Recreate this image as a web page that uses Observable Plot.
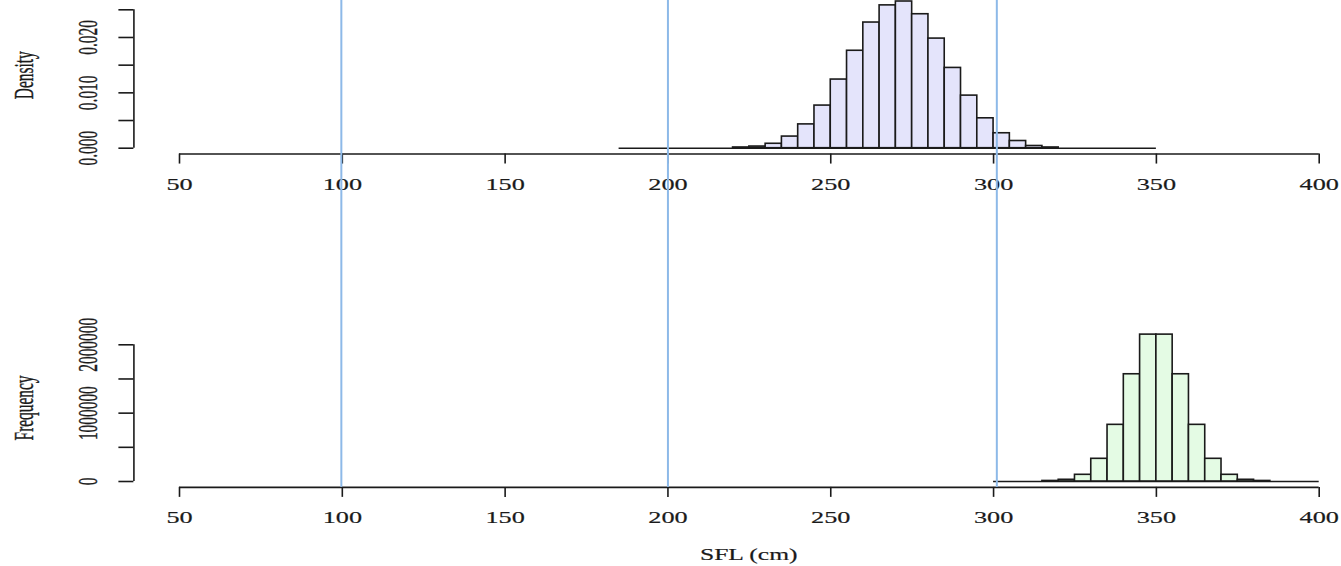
<!DOCTYPE html>
<html><head><meta charset="utf-8">
<script src="https://cdn.jsdelivr.net/npm/d3@7"></script>
<script src="https://cdn.jsdelivr.net/npm/@observablehq/plot@0.6"></script>
<style>html,body{margin:0;padding:0;background:#fff;} #chart svg{display:block;} #chart svg text{stroke:#1a1a1a;stroke-width:0.2px;} #chart svg text.vert{stroke-width:0.4px;}</style>
</head><body><div id="chart"></div>
<script>
// ---- data ----
const binWidth = 5;
const topBinStart = 185;
const topDensity = [0,0,0,0,0,0,0,
  0.00013,0.0003,0.0008,0.0021,0.0043,0.0077,0.0124,0.0176,0.0227,0.0258,
  0.0265,0.0242,0.0198,0.0145,0.0095,0.0054,0.0027,0.0013,0.0004,0.00013,
  0,0,0,0,0,0];
const bottomBinStart = 300;
const bottomFrequency = [0,0,0,8000,25000,98000,332000,829000,1569000,2149000,
  2149000,1569000,829000,332000,98000,25000,8000,0,0,0];
const xLimits = [50, 400];
const xTicks = [50,100,150,200,250,300,350,400];
const topYTicks = [0,0.005,0.01,0.015,0.02,0.025];
const topYLabels = [0,0.01,0.02];
const bottomYTicks = [0,500000,1000000,1500000,2000000];
const bottomYLabels = [0,1000000,2000000];
const refLines = [99.7,200,301];
const topLabel = "Density";
const bottomLabel = "Frequency";
const xLabel = "SFL (cm)";

// ---- helpers ----
const toBins = (start, vals) => vals.map((v, i) => ({x1: start + i*binWidth, x2: start + (i+1)*binWidth, v}));
const topBins = toBins(topBinStart, topDensity);
const bottomBins = toBins(bottomBinStart, bottomFrequency);
const xAxisPos = xLimits[0] - 0.04*(xLimits[1]-xLimits[0]);

const W = 1341, H = 283;
const ink = "#1a1a1a";
const refColor = "#8db9e8";
const style = {fontFamily: "'Liberation Serif','DejaVu Serif',serif", fontSize: "17.5px", color: ink, background: "white", overflow: "visible"};

function panel({bins, yDomain, yRange, yTicks, yLabels, yFmt, label, fill, marginTop, withXLabel}) {
  const maxV = d3.max(bins, d => d.v);
  const yAxisPos = -0.04*maxV;
  const yScale = d3.scaleLinear(yDomain, yRange);
  const marginBottom = H - yScale(yAxisPos);
  const first = bins[0].x1, last = bins[bins.length-1].x2;
  const marks = [
    Plot.ruleY([0], {x1: first, x2: last, stroke: ink, strokeWidth: 1.5}),
    Plot.rect(bins.filter(d => d.v > 0), {x1: "x1", x2: "x2", y1: d => 0, y2: "v", fill, stroke: ink, strokeWidth: 1.6}),
    // axes
    Plot.ruleX([xAxisPos], {y1: yTicks[0], y2: yTicks[yTicks.length-1], stroke: ink, strokeWidth: 1.6}),
    Plot.ruleY([yAxisPos], {x1: xLimits[0], x2: xLimits[1], stroke: ink, strokeWidth: 1.6}),
    Plot.axisY({ticks: yTicks, tickSize: 15, tickFormat: () => "", label: null, strokeWidth: 1.6}),
    Plot.axisX({ticks: xTicks, tickSize: 10, tickPadding: 13.5, label: null, strokeWidth: 1.6, fontSize: 17.5}),
    Plot.text(yLabels, {y: d => d, text: d => yFmt(d), frameAnchor: "left", textAnchor: "middle", lineAnchor: "middle", rotate: -90, dx: -45.5, fontSize: 28, fill: ink}),
    Plot.text([label], {text: d => d, frameAnchor: "left", textAnchor: "middle", lineAnchor: "middle", rotate: -90, dx: -110, dy: marginTop === 0 ? -2 : 0, fontSize: 28, fill: ink})
  ];
  if (withXLabel) {
    marks.push(Plot.text([xLabel], {text: d => d, frameAnchor: "bottom", textAnchor: "middle", lineAnchor: "middle", dx: 11, dy: 67.6, fontSize: 17, fill: ink}));
  }
  marks.push(Plot.ruleX(refLines, {stroke: refColor, strokeWidth: 2, insetTop: -marginTop, insetBottom: withXLabel ? 0 : -marginBottom}));
  return Plot.plot({
    width: W, height: H,
    marginLeft: 133.4, marginRight: 0, marginTop, marginBottom,
    x: {domain: xLimits, range: [179, 1318.7]},
    y: {domain: yDomain, range: yRange},
    style,
    marks
  });
}

const topSvg = panel({bins: topBins, yDomain: [0, 0.025], yRange: [147.7, 9.3], yTicks: topYTicks, yLabels: topYLabels,
  yFmt: d3.format(".3f"), label: topLabel, fill: "#e4e4fb", marginTop: 0, withXLabel: false});
const bottomSvg = panel({bins: bottomBins, yDomain: [0, 2000000], yRange: [198, 61.3], yTicks: bottomYTicks, yLabels: bottomYLabels,
  yFmt: d => String(d), label: bottomLabel, fill: "#e4fbe4", marginTop: 45, withXLabel: true});

const chart = document.getElementById("chart");
chart.append(topSvg, bottomSvg);

// emulate the reference's anisotropic text proportions
for (const t of chart.querySelectorAll("text")) {
  if (!t.textContent) continue;
  const L = t.getComputedTextLength();
  if (!L) continue;
  const tr = (t.getAttribute("transform") || "") + (t.parentNode.getAttribute("transform") || "");
  const rot = /rotate/.test(tr);
  if (rot) t.classList.add("vert");
  t.setAttribute("textLength", L * (rot ? 0.55 : 1.5));
  t.setAttribute("lengthAdjust", "spacingAndGlyphs");
}
</script>
</body></html>
